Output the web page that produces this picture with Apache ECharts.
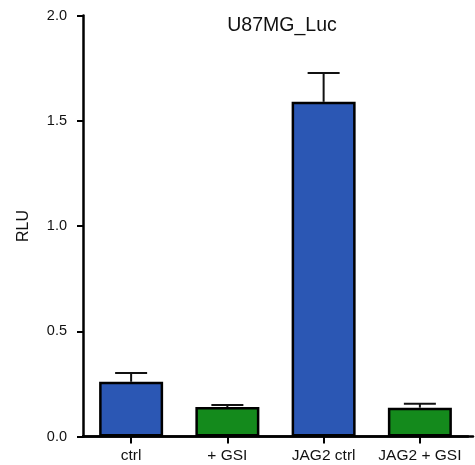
<!DOCTYPE html>
<html>
<head>
<meta charset="utf-8">
<script src="https://cdn.jsdelivr.net/npm/echarts@6/dist/echarts.min.js"></script>
<style>
  html, body { margin: 0; padding: 0; background: #fff; }
  #chart { width: 475px; height: 465px; }
</style>
</head>
<body>
<div id="chart"></div>
<script>
// Luciferase reporter activity (relative light units), mean + SEM
const categories = ['ctrl', '+ GSI', 'JAG2 ctrl', 'JAG2 + GSI'];
const means = [0.26, 0.14, 1.59, 0.137];
const errors = [0.042, 0.01, 0.137, 0.019];
const barColors = ['#2b57b4', '#148a1c', '#2b57b4', '#148a1c'];
const yTicks = { min: 0, max: 2, interval: 0.5 };

const FONT = '"Liberation Sans", Arial, Helvetica, sans-serif';
const chart = echarts.init(document.getElementById('chart'), null, { renderer: 'canvas' });

const option = {
  animation: false,
  backgroundColor: '#ffffff',
  title: {
    text: 'U87MG_Luc',
    left: 277,
    top: 11,
    textAlign: 'center',
    textStyle: { fontFamily: FONT, fontSize: 19.5, fontWeight: 'normal', color: '#111' }
  },
  grid: [
    { left: 83, right: 7, top: 15.5, bottom: 28.5 },
    { left: 83, right: 2, top: 15.5, bottom: 28.5 }
  ],
  xAxis: [
    {
      type: 'category',
      gridIndex: 0,
      data: categories,
      z: 5,
      axisLine: { show: true, lineStyle: { color: '#000', width: 2.5 } },
      axisTick: { show: true, alignWithLabel: true, interval: 0, length: 7, lineStyle: { color: '#000', width: 2 } },
      axisLabel: { fontFamily: FONT, fontSize: 15.5, color: '#111', margin: 11, interval: 0 }
    },
    {
      // plain baseline running to the right edge
      type: 'value',
      gridIndex: 1,
      min: 0, max: 1,
      axisLine: { show: true, onZero: false, lineStyle: { color: '#000', width: 2.5 } },
      axisTick: { show: false },
      axisLabel: { show: false },
      splitLine: { show: false }
    }
  ],
  yAxis: [
    {
      type: 'value',
      gridIndex: 0,
      min: yTicks.min,
      max: yTicks.max,
      interval: yTicks.interval,
      name: 'RLU',
      nameLocation: 'middle',
      nameGap: 51,
      nameTextStyle: { fontFamily: FONT, fontSize: 16, color: '#111' },
      axisLine: { show: true, lineStyle: { color: '#000', width: 2.5 } },
      axisTick: { show: true, length: 6, lineStyle: { color: '#000', width: 2 } },
      axisLabel: {
        fontFamily: FONT, fontSize: 14.5, color: '#111', margin: 16,
        formatter: v => v.toFixed(1)
      },
      splitLine: { show: false }
    },
    {
      type: 'value',
      gridIndex: 1,
      show: false,
      min: 0, max: 1
    }
  ],
  series: [
    {
      type: 'bar',
      xAxisIndex: 0,
      yAxisIndex: 0,
      barWidth: 64,
      z: 2,
      data: means.map((v, i) => ({
        value: v,
        itemStyle: { color: barColors[i], borderColor: '#000', borderWidth: 2.5 }
      }))
    },
    {
      // upward error bars with caps
      type: 'custom',
      xAxisIndex: 0,
      yAxisIndex: 0,
      z: 1,
      data: means.map((v, i) => [i, v, v + errors[i]]),
      renderItem: function (params, api) {
        const base = api.coord([api.value(0), api.value(1)]);
        const top = api.coord([api.value(0), api.value(2)]);
        const half = 16;
        const style = { stroke: '#111', lineWidth: 2, fill: null };
        return {
          type: 'group',
          children: [
            { type: 'line', shape: { x1: base[0], y1: base[1], x2: top[0], y2: top[1] }, style },
            { type: 'line', shape: { x1: top[0] - half, y1: top[1], x2: top[0] + half, y2: top[1] }, style }
          ]
        };
      }
    }
  ]
};

chart.setOption(option);
</script>
</body>
</html>
